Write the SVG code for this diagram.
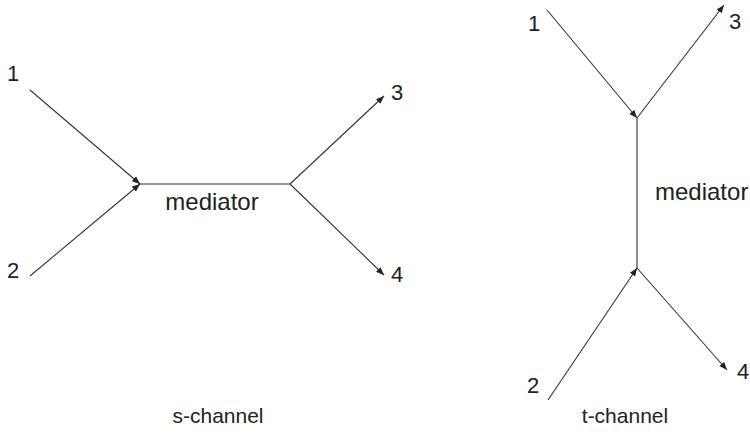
<svg xmlns="http://www.w3.org/2000/svg" width="750" height="437" viewBox="0 0 750 437">
<style>
.l{stroke:#333;stroke-width:1.1;fill:none}
.a{marker-end:url(#ah)}
text{font-family:"Liberation Sans",Arial,sans-serif;fill:#222;font-size:22px}
.m{font-size:24px}
.c{font-size:21px}
</style>
<defs>
<marker id="ah" viewBox="0 0 10 10" refX="10" refY="5" markerWidth="8" markerHeight="8" markerUnits="userSpaceOnUse" orient="auto">
<path d="M0,1 L10,5 L0,9 Z" fill="#222"/>
</marker>
</defs>
<rect width="750" height="437" fill="#fff"/>
<g id="connectors">
<line class="l a" x1="30" y1="90" x2="140" y2="184"/>
<line class="l a" x1="30" y1="276" x2="140" y2="184"/>
<line class="l" x1="140" y1="184" x2="290" y2="184"/>
<line class="l a" x1="290" y1="184" x2="384" y2="96"/>
<line class="l a" x1="290" y1="184" x2="384" y2="275"/>
<line class="l a" x1="547" y1="10" x2="637" y2="118"/>
<line class="l" x1="637" y1="118" x2="637" y2="268"/>
<line class="l a" x1="637" y1="118" x2="724" y2="5"/>
<line class="l a" x1="548" y1="400" x2="637" y2="268"/>
<line class="l a" x1="637" y1="268" x2="727" y2="370"/>
</g>
<g id="s-channel">
<text x="7" y="81">1</text>
<text x="7" y="278">2</text>
<text x="391" y="100">3</text>
<text x="391" y="282">4</text>
<text x="212" y="210" text-anchor="middle" class="m">mediator</text>
<text x="218" y="423" text-anchor="middle" class="c">s-channel</text>
</g>
<g id="t-channel">
<text x="528" y="31">1</text>
<text x="729" y="29">3</text>
<text x="527" y="393">2</text>
<text x="737" y="379">4</text>
<text x="655" y="200" class="m">mediator</text>
<text x="625" y="423" text-anchor="middle" class="c">t-channel</text>
</g>
</svg>
